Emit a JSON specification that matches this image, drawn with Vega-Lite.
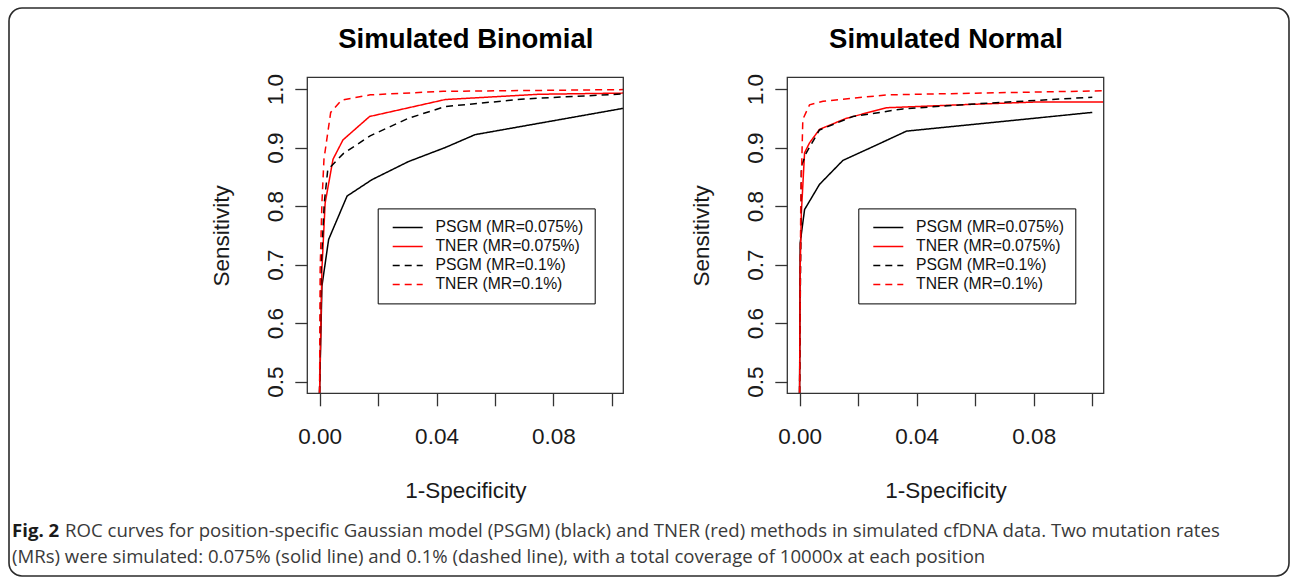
{
  "$schema": "https://vega.github.io/schema/vega-lite/v6.json",
  "width": 1280,
  "height": 568,
  "autosize": {"type": "none"},
  "padding": {"left": 9, "top": 8, "right": 3, "bottom": 2},
  "background": "white",
  "view": {"stroke": "#2b2b2b", "strokeWidth": 1.6, "cornerRadius": 13},
  "config": {
    "font": "Liberation Sans",
    "axis": {"grid": false, "domain": false, "tickColor": "#333", "tickWidth": 1.3, "tickSize": 12.5, "labelFont": "Liberation Sans", "labelFontSize": 22.5, "labelColor": "#1a1a1a", "titleFont": "Liberation Sans", "titleFontSize": 22.5, "titleFontWeight": "normal", "titleColor": "#1a1a1a", "labelFlush": false, "labelOverlap": false},
    "legend": {"title": null, "orient": "none", "strokeColor": "#000", "fillColor": "#fff", "padding": 10.5, "labelFont": "Liberation Sans", "labelFontSize": 15.7, "labelColor": "#111", "symbolType": "M-1,0H3", "symbolSize": 225, "symbolStrokeWidth": 1.5, "symbolOffset": 3.5, "labelOffset": 26.8, "rowPadding": 2, "labelLimit": 300}
  },
  "layer": [
    {
      "data": {"values": [
        {"series": "PSGM (MR=0.075%)", "fpr": 0, "sens": 0},
        {"series": "PSGM (MR=0.075%)", "fpr": 0.0008, "sens": 0.663},
        {"series": "PSGM (MR=0.075%)", "fpr": 0.0031, "sens": 0.743},
        {"series": "PSGM (MR=0.075%)", "fpr": 0.0094, "sens": 0.817},
        {"series": "PSGM (MR=0.075%)", "fpr": 0.0179, "sens": 0.845},
        {"series": "PSGM (MR=0.075%)", "fpr": 0.0304, "sens": 0.876},
        {"series": "PSGM (MR=0.075%)", "fpr": 0.043, "sens": 0.9},
        {"series": "PSGM (MR=0.075%)", "fpr": 0.0532, "sens": 0.922},
        {"series": "PSGM (MR=0.075%)", "fpr": 0.104, "sens": 0.967},
        {"series": "TNER (MR=0.075%)", "fpr": 0, "sens": 0},
        {"series": "TNER (MR=0.075%)", "fpr": 0.0008, "sens": 0.692},
        {"series": "TNER (MR=0.075%)", "fpr": 0.0019, "sens": 0.805},
        {"series": "TNER (MR=0.075%)", "fpr": 0.0046, "sens": 0.88},
        {"series": "TNER (MR=0.075%)", "fpr": 0.008, "sens": 0.913},
        {"series": "TNER (MR=0.075%)", "fpr": 0.0171, "sens": 0.953},
        {"series": "TNER (MR=0.075%)", "fpr": 0.043, "sens": 0.982},
        {"series": "TNER (MR=0.075%)", "fpr": 0.075, "sens": 0.991},
        {"series": "TNER (MR=0.075%)", "fpr": 0.104, "sens": 0.993},
        {"series": "PSGM (MR=0.1%)", "fpr": 0, "sens": 0},
        {"series": "PSGM (MR=0.1%)", "fpr": 0.0005, "sens": 0.692},
        {"series": "PSGM (MR=0.1%)", "fpr": 0.0016, "sens": 0.805},
        {"series": "PSGM (MR=0.1%)", "fpr": 0.0028, "sens": 0.862},
        {"series": "PSGM (MR=0.1%)", "fpr": 0.0082, "sens": 0.89},
        {"series": "PSGM (MR=0.1%)", "fpr": 0.0173, "sens": 0.92},
        {"series": "PSGM (MR=0.1%)", "fpr": 0.0304, "sens": 0.95},
        {"series": "PSGM (MR=0.1%)", "fpr": 0.043, "sens": 0.97},
        {"series": "PSGM (MR=0.1%)", "fpr": 0.0555, "sens": 0.976},
        {"series": "PSGM (MR=0.1%)", "fpr": 0.07, "sens": 0.983},
        {"series": "PSGM (MR=0.1%)", "fpr": 0.104, "sens": 0.9915},
        {"series": "TNER (MR=0.1%)", "fpr": 0, "sens": 0},
        {"series": "TNER (MR=0.1%)", "fpr": 0.0002, "sens": 0.692},
        {"series": "TNER (MR=0.1%)", "fpr": 0.0008, "sens": 0.805},
        {"series": "TNER (MR=0.1%)", "fpr": 0.0015, "sens": 0.88},
        {"series": "TNER (MR=0.1%)", "fpr": 0.0038, "sens": 0.96},
        {"series": "TNER (MR=0.1%)", "fpr": 0.0075, "sens": 0.981},
        {"series": "TNER (MR=0.1%)", "fpr": 0.0173, "sens": 0.99},
        {"series": "TNER (MR=0.1%)", "fpr": 0.0423, "sens": 0.996},
        {"series": "TNER (MR=0.1%)", "fpr": 0.104, "sens": 0.999}
      ]},
      "layer": [
        {
          "mark": {"type": "line", "clip": true, "strokeWidth": 1.5},
          "encoding": {
            "x": {"field": "fpr", "type": "quantitative", "scale": {"domain": [-0.0042, 0.1039], "range": [298.3, 614.3], "nice": false, "zero": false, "clamp": true},
                  "axis": {"orient": "bottom", "offset": -182.7, "values": [0, 0.02, 0.04, 0.06, 0.08, 0.1], "labelExpr": "round(datum.value*100) % 4 == 0 ? format(datum.value, '.2f') : ''", "labelBaseline": "alphabetic", "labelPadding": 38, "title": "1-Specificity", "titleBaseline": "alphabetic", "titleX": 456.3, "titleY": 104.5, "titleAlign": "center"}},
            "y": {"field": "sens", "type": "quantitative", "scale": {"domain": [0.48, 1.02], "range": [385.3, 69.3], "nice": false, "zero": false, "clamp": true},
                  "axis": {"orient": "left", "offset": -298.3, "values": [0.5, 0.6, 0.7, 0.8, 0.9, 1.0], "format": ".1f", "labelAngle": -90, "labelAlign": "center", "labelBaseline": "alphabetic", "labelPadding": 12.8, "title": "Sensitivity", "titleBaseline": "alphabetic", "titleAngle": -90, "titleX": -79, "titleY": 227.3, "titleAlign": "center"}},
            "color": {"field": "series", "type": "nominal", "scale": {"domain": ["PSGM (MR=0.075%)", "TNER (MR=0.075%)", "PSGM (MR=0.1%)", "TNER (MR=0.1%)"], "range": ["#000000", "#ff0000", "#000000", "#ff0000"]},
                      "legend": {"legendX": 368.7, "legendY": 200.4}},
            "strokeDash": {"field": "series", "type": "nominal", "scale": {"domain": ["PSGM (MR=0.075%)", "TNER (MR=0.075%)", "PSGM (MR=0.1%)", "TNER (MR=0.1%)"], "range": [[1, 0], [1, 0], [7, 5], [7, 5]]},
                      "legend": {"legendX": 368.7, "legendY": 200.4}}
          }
        },
        {
          "data": {"values": [{"box": "Simulated Binomial"}]},
          "mark": {"type": "rect", "filled": false, "color": "#333", "strokeWidth": 1.3},
          "encoding": {
            "x": {"datum": -0.0042, "type": "quantitative", "axis": {"orient": "top", "offset": -69.3, "domain": false, "ticks": false, "labels": false, "title": "Simulated Binomial", "titleFontSize": 27.5, "titleFontWeight": "bold", "titleColor": "#000", "titleBaseline": "alphabetic", "titleX": 456.3, "titleY": -29.5, "titleAlign": "center"}},
            "x2": {"datum": 0.1039},
            "y": {"datum": 0.48, "type": "quantitative",
                  "axis": {"orient": "left", "offset": -298.3, "values": [0.5, 0.6, 0.7, 0.8, 0.9, 1.0], "format": ".1f", "labelAngle": -90, "labelAlign": "center", "labelBaseline": "alphabetic", "labelPadding": 12.8, "title": "Sensitivity", "titleBaseline": "alphabetic", "titleAngle": -90, "titleX": -79, "titleY": 227.3, "titleAlign": "center"}},
            "y2": {"datum": 1.02}
          }
        }
      ],
      "resolve": {"axis": {"x": "independent"}}
    },
    {
      "data": {"values": [
        {"series": "PSGM (MR=0.075%)", "fpr": 0, "sens": 0},
        {"series": "PSGM (MR=0.075%)", "fpr": 0.0002, "sens": 0.737},
        {"series": "PSGM (MR=0.075%)", "fpr": 0.0017, "sens": 0.794},
        {"series": "PSGM (MR=0.075%)", "fpr": 0.0068, "sens": 0.837},
        {"series": "PSGM (MR=0.075%)", "fpr": 0.0148, "sens": 0.878},
        {"series": "PSGM (MR=0.075%)", "fpr": 0.024, "sens": 0.899},
        {"series": "PSGM (MR=0.075%)", "fpr": 0.0365, "sens": 0.928},
        {"series": "PSGM (MR=0.075%)", "fpr": 0.1, "sens": 0.96},
        {"series": "TNER (MR=0.075%)", "fpr": 0, "sens": 0},
        {"series": "TNER (MR=0.075%)", "fpr": 0.0002, "sens": 0.692},
        {"series": "TNER (MR=0.075%)", "fpr": 0.0006, "sens": 0.788},
        {"series": "TNER (MR=0.075%)", "fpr": 0.0017, "sens": 0.891},
        {"series": "TNER (MR=0.075%)", "fpr": 0.0034, "sens": 0.908},
        {"series": "TNER (MR=0.075%)", "fpr": 0.0068, "sens": 0.931},
        {"series": "TNER (MR=0.075%)", "fpr": 0.016, "sens": 0.95},
        {"series": "TNER (MR=0.075%)", "fpr": 0.0297, "sens": 0.968},
        {"series": "TNER (MR=0.075%)", "fpr": 0.06, "sens": 0.974},
        {"series": "TNER (MR=0.075%)", "fpr": 0.082, "sens": 0.978},
        {"series": "TNER (MR=0.075%)", "fpr": 0.104, "sens": 0.978},
        {"series": "PSGM (MR=0.1%)", "fpr": 0, "sens": 0},
        {"series": "PSGM (MR=0.1%)", "fpr": 0.0002, "sens": 0.62},
        {"series": "PSGM (MR=0.1%)", "fpr": 0.0006, "sens": 0.868},
        {"series": "PSGM (MR=0.1%)", "fpr": 0.0023, "sens": 0.891},
        {"series": "PSGM (MR=0.1%)", "fpr": 0.0068, "sens": 0.93},
        {"series": "PSGM (MR=0.1%)", "fpr": 0.0182, "sens": 0.953},
        {"series": "PSGM (MR=0.1%)", "fpr": 0.0353, "sens": 0.966},
        {"series": "PSGM (MR=0.1%)", "fpr": 0.0581, "sens": 0.974},
        {"series": "PSGM (MR=0.1%)", "fpr": 0.1, "sens": 0.986},
        {"series": "TNER (MR=0.1%)", "fpr": 0, "sens": 0},
        {"series": "TNER (MR=0.1%)", "fpr": 0.0004, "sens": 0.805},
        {"series": "TNER (MR=0.1%)", "fpr": 0.0011, "sens": 0.948},
        {"series": "TNER (MR=0.1%)", "fpr": 0.0034, "sens": 0.973},
        {"series": "TNER (MR=0.1%)", "fpr": 0.008, "sens": 0.979},
        {"series": "TNER (MR=0.1%)", "fpr": 0.0297, "sens": 0.99},
        {"series": "TNER (MR=0.1%)", "fpr": 0.104, "sens": 0.997}
      ]},
      "layer": [
        {
          "mark": {"type": "line", "clip": true, "strokeWidth": 1.5},
          "encoding": {
            "x": {"field": "fpr", "type": "quantitative", "scale": {"domain": [-0.0042, 0.1039], "range": [778.3, 1094.7], "nice": false, "zero": false, "clamp": true},
                  "axis": {"orient": "bottom", "offset": -182.7, "values": [0, 0.02, 0.04, 0.06, 0.08, 0.1], "labelExpr": "round(datum.value*100) % 4 == 0 ? format(datum.value, '.2f') : ''", "labelBaseline": "alphabetic", "labelPadding": 38, "title": "1-Specificity", "titleBaseline": "alphabetic", "titleX": 936.5, "titleY": 104.5, "titleAlign": "center"}},
            "y": {"field": "sens", "type": "quantitative", "scale": {"domain": [0.48, 1.02], "range": [385.3, 69.3], "nice": false, "zero": false, "clamp": true},
                  "axis": {"orient": "left", "offset": -778.3, "values": [0.5, 0.6, 0.7, 0.8, 0.9, 1.0], "format": ".1f", "labelAngle": -90, "labelAlign": "center", "labelBaseline": "alphabetic", "labelPadding": 12.8, "title": "Sensitivity", "titleBaseline": "alphabetic", "titleAngle": -90, "titleX": -79, "titleY": 227.3, "titleAlign": "center"}},
            "color": {"field": "series", "type": "nominal", "scale": {"domain": ["PSGM (MR=0.075%)", "TNER (MR=0.075%)", "PSGM (MR=0.1%)", "TNER (MR=0.1%)"], "range": ["#000000", "#ff0000", "#000000", "#ff0000"]},
                      "legend": {"legendX": 849.3, "legendY": 200.4}},
            "strokeDash": {"field": "series", "type": "nominal", "scale": {"domain": ["PSGM (MR=0.075%)", "TNER (MR=0.075%)", "PSGM (MR=0.1%)", "TNER (MR=0.1%)"], "range": [[1, 0], [1, 0], [7, 5], [7, 5]]},
                      "legend": {"legendX": 849.3, "legendY": 200.4}}
          }
        },
        {
          "data": {"values": [{"box": "Simulated Normal"}]},
          "mark": {"type": "rect", "filled": false, "color": "#333", "strokeWidth": 1.3},
          "encoding": {
            "x": {"datum": -0.0042, "type": "quantitative", "axis": {"orient": "top", "offset": -69.3, "domain": false, "ticks": false, "labels": false, "title": "Simulated Normal", "titleFontSize": 27.5, "titleFontWeight": "bold", "titleColor": "#000", "titleBaseline": "alphabetic", "titleX": 936.5, "titleY": -29.5, "titleAlign": "center"}},
            "x2": {"datum": 0.1039},
            "y": {"datum": 0.48, "type": "quantitative",
                  "axis": {"orient": "left", "offset": -778.3, "values": [0.5, 0.6, 0.7, 0.8, 0.9, 1.0], "format": ".1f", "labelAngle": -90, "labelAlign": "center", "labelBaseline": "alphabetic", "labelPadding": 12.8, "title": "Sensitivity", "titleBaseline": "alphabetic", "titleAngle": -90, "titleX": -79, "titleY": 227.3, "titleAlign": "center"}},
            "y2": {"datum": 1.02}
          }
        }
      ],
      "resolve": {"axis": {"x": "independent"}}
    },
    {
      "data": {"values": [
        {"part": "fig", "text": "Fig. 2"},
        {"part": "l1", "text": "ROC curves for position-specific Gaussian model (PSGM) (black) and TNER (red) methods in simulated cfDNA data. Two mutation rates"},
        {"part": "l2", "text": "(MRs) were simulated: 0.075% (solid line) and 0.1% (dashed line), with a total coverage of 10000x at each position"}
      ]},
      "layer": [
        {"transform": [{"filter": "datum.part == 'fig'"}], "mark": {"type": "text", "align": "left", "baseline": "alphabetic", "font": "Open Sans", "fontSize": 18.6, "fontWeight": "bold", "color": "#1a1a1a", "x": 3, "y": 529}, "encoding": {"text": {"field": "text"}}},
        {"transform": [{"filter": "datum.part == 'l1'"}], "mark": {"type": "text", "align": "left", "baseline": "alphabetic", "font": "Open Sans", "fontSize": 18.6, "color": "#3a3a3a", "x": 56, "y": 529}, "encoding": {"text": {"field": "text"}}},
        {"transform": [{"filter": "datum.part == 'l2'"}], "mark": {"type": "text", "align": "left", "baseline": "alphabetic", "font": "Open Sans", "fontSize": 18.6, "color": "#3a3a3a", "x": 3, "y": 555}, "encoding": {"text": {"field": "text"}}}
      ]
    }
  ],
  "resolve": {
    "scale": {"x": "independent", "y": "independent", "color": "independent", "strokeDash": "independent"},
    "legend": {"color": "independent", "strokeDash": "independent"}
  }
}
